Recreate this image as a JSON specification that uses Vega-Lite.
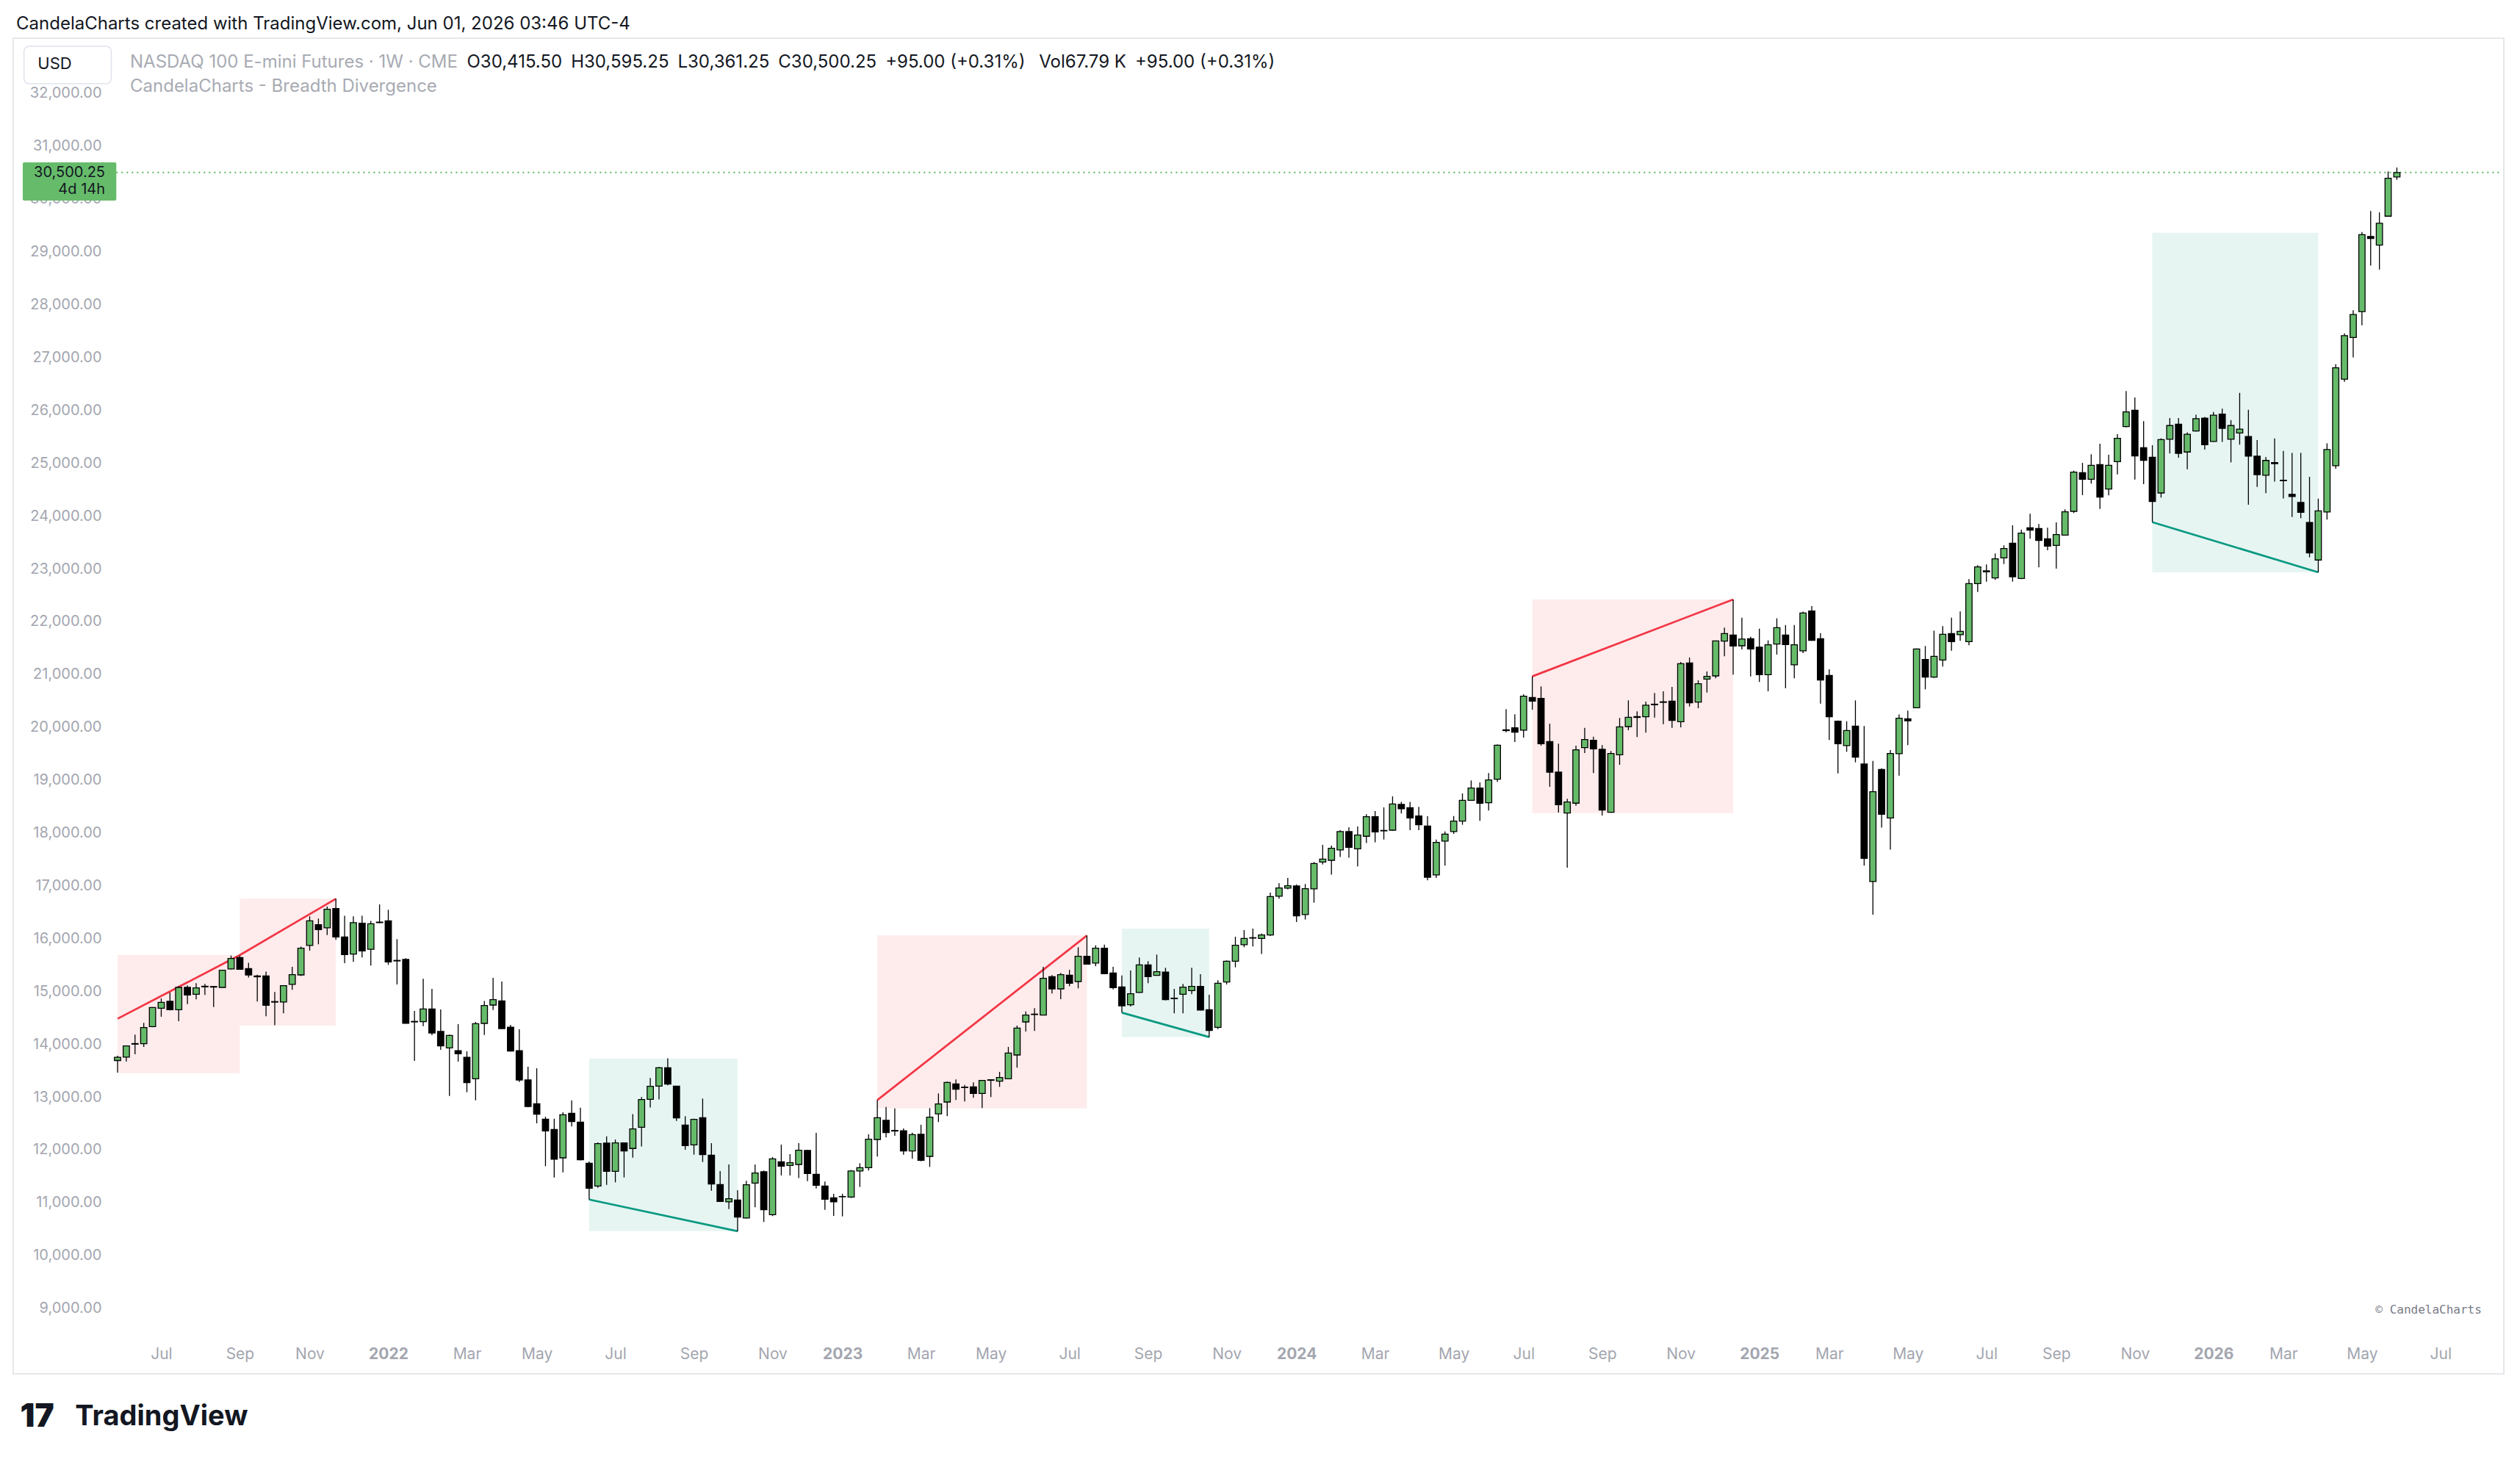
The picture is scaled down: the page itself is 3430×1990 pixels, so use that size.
{
"$schema": "https://vega.github.io/schema/vega-lite/v6.json",
"width": 3390,
"height": 1818,
"autosize": {"type": "none"},
"padding": {"left": 18, "top": 52, "right": 22, "bottom": 120},
"background": "#ffffff",
"config": {"view": {"stroke": "#e6e7eb", "strokeWidth": 2}, "font": "Inter"},
"title": {"text": "CandelaCharts created with TradingView.com, Jun 01, 2026 03:46 UTC-4", "anchor": "start", "frame": "group", "orient": "top", "fontSize": 24, "fontWeight": "normal", "color": "#131722", "font": "Inter", "dx": 4, "offset": 7},
"datasets": {
"candles": [
{"d":"2021-05-31","o":13690,"h":13780,"l":13460,"c":13750},
{"d":"2021-06-07","o":13753,"h":13975,"l":13669,"c":13966},
{"d":"2021-06-14","o":14010,"h":14179,"l":13808,"c":14000},
{"d":"2021-06-21","o":14008,"h":14402,"l":13948,"c":14314},
{"d":"2021-06-28","o":14332,"h":14700,"l":14320,"c":14694},
{"d":"2021-07-05","o":14680,"h":14865,"l":14518,"c":14791},
{"d":"2021-07-12","o":14810,"h":14977,"l":14640,"c":14652},
{"d":"2021-07-19","o":14652,"h":15093,"l":14434,"c":15074},
{"d":"2021-07-26","o":15074,"h":15111,"l":14759,"c":14930},
{"d":"2021-08-02","o":14944,"h":15153,"l":14847,"c":15065},
{"d":"2021-08-09","o":15095,"h":15139,"l":14930,"c":15085},
{"d":"2021-08-16","o":15090,"h":15097,"l":14703,"c":15080},
{"d":"2021-08-23","o":15074,"h":15408,"l":15070,"c":15399},
{"d":"2021-08-30","o":15422,"h":15677,"l":15415,"c":15621},
{"d":"2021-09-06","o":15640,"h":15677,"l":15410,"c":15417},
{"d":"2021-09-13","o":15431,"h":15538,"l":15260,"c":15310},
{"d":"2021-09-20","o":15290,"h":15315,"l":14805,"c":15275},
{"d":"2021-09-27","o":15292,"h":15371,"l":14527,"c":14736},
{"d":"2021-10-04","o":14805,"h":14986,"l":14356,"c":14795},
{"d":"2021-10-11","o":14796,"h":15106,"l":14583,"c":15106},
{"d":"2021-10-18","o":15130,"h":15463,"l":15028,"c":15315},
{"d":"2021-10-25","o":15310,"h":15848,"l":15290,"c":15816},
{"d":"2021-11-01","o":15867,"h":16419,"l":15770,"c":16335},
{"d":"2021-11-08","o":16261,"h":16377,"l":15890,"c":16168},
{"d":"2021-11-15","o":16201,"h":16604,"l":16066,"c":16553},
{"d":"2021-11-22","o":16567,"h":16752,"l":15974,"c":16029},
{"d":"2021-11-29","o":16029,"h":16428,"l":15533,"c":15695},
{"d":"2021-12-06","o":15705,"h":16419,"l":15556,"c":16298},
{"d":"2021-12-13","o":16289,"h":16428,"l":15640,"c":15765},
{"d":"2021-12-20","o":15796,"h":16334,"l":15486,"c":16279},
{"d":"2021-12-27","o":16310,"h":16645,"l":16290,"c":16300},
{"d":"2022-01-03","o":16334,"h":16543,"l":15500,"c":15555},
{"d":"2022-01-10","o":15585,"h":15987,"l":15129,"c":15575},
{"d":"2022-01-17","o":15602,"h":15625,"l":14390,"c":14396},
{"d":"2022-01-24","o":14430,"h":14628,"l":13683,"c":14420},
{"d":"2022-01-31","o":14424,"h":15236,"l":14341,"c":14665},
{"d":"2022-02-07","o":14665,"h":15045,"l":14169,"c":14211},
{"d":"2022-02-14","o":14239,"h":14656,"l":13891,"c":13965},
{"d":"2022-02-21","o":13928,"h":14179,"l":13020,"c":14165},
{"d":"2022-02-28","o":13877,"h":14378,"l":13669,"c":13817},
{"d":"2022-03-07","o":13752,"h":13863,"l":13089,"c":13270},
{"d":"2022-03-14","o":13344,"h":14420,"l":12936,"c":14387},
{"d":"2022-03-21","o":14392,"h":14818,"l":14174,"c":14730},
{"d":"2022-03-28","o":14740,"h":15254,"l":14647,"c":14842},
{"d":"2022-04-04","o":14818,"h":15185,"l":14290,"c":14294},
{"d":"2022-04-11","o":14322,"h":14364,"l":13860,"c":13868},
{"d":"2022-04-18","o":13877,"h":14281,"l":13284,"c":13321},
{"d":"2022-04-25","o":13321,"h":13571,"l":12802,"c":12820},
{"d":"2022-05-02","o":12871,"h":13543,"l":12500,"c":12672},
{"d":"2022-05-09","o":12579,"h":12625,"l":11689,"c":12357},
{"d":"2022-05-16","o":12384,"h":12588,"l":11476,"c":11823},
{"d":"2022-05-23","o":11847,"h":12709,"l":11573,"c":12662},
{"d":"2022-05-30","o":12690,"h":12936,"l":12440,"c":12533},
{"d":"2022-06-06","o":12523,"h":12797,"l":11800,"c":11810},
{"d":"2022-06-13","o":11745,"h":11777,"l":11058,"c":11272},
{"d":"2022-06-20","o":11313,"h":12139,"l":11281,"c":12116},
{"d":"2022-06-27","o":12125,"h":12255,"l":11337,"c":11592},
{"d":"2022-07-04","o":11592,"h":12194,"l":11383,"c":12130},
{"d":"2022-07-11","o":12130,"h":12139,"l":11476,"c":11976},
{"d":"2022-07-18","o":12024,"h":12673,"l":11852,"c":12394},
{"d":"2022-07-25","o":12427,"h":12997,"l":12061,"c":12951},
{"d":"2022-08-01","o":12955,"h":13359,"l":12798,"c":13201},
{"d":"2022-08-08","o":13206,"h":13567,"l":12951,"c":13553},
{"d":"2022-08-15","o":13553,"h":13730,"l":13220,"c":13243},
{"d":"2022-08-22","o":13206,"h":13210,"l":12547,"c":12603},
{"d":"2022-08-29","o":12469,"h":12635,"l":12000,"c":12079},
{"d":"2022-09-05","o":12093,"h":12589,"l":11908,"c":12575},
{"d":"2022-09-12","o":12608,"h":12969,"l":11768,"c":11908},
{"d":"2022-09-19","o":11898,"h":12126,"l":11226,"c":11351},
{"d":"2022-09-26","o":11342,"h":11597,"l":11020,"c":11022},
{"d":"2022-10-03","o":11013,"h":11722,"l":10878,"c":11073},
{"d":"2022-10-10","o":11050,"h":11235,"l":10457,"c":10725},
{"d":"2022-10-17","o":10707,"h":11412,"l":10700,"c":11337},
{"d":"2022-10-24","o":11370,"h":11722,"l":10911,"c":11560},
{"d":"2022-10-31","o":11583,"h":11606,"l":10633,"c":10865},
{"d":"2022-11-07","o":10772,"h":11861,"l":10744,"c":11829},
{"d":"2022-11-14","o":11773,"h":12098,"l":11514,"c":11690},
{"d":"2022-11-21","o":11704,"h":11917,"l":11514,"c":11755},
{"d":"2022-11-28","o":11722,"h":12126,"l":11463,"c":11991},
{"d":"2022-12-05","o":11986,"h":12000,"l":11407,"c":11551},
{"d":"2022-12-12","o":11537,"h":12320,"l":11268,"c":11328},
{"d":"2022-12-19","o":11314,"h":11398,"l":10864,"c":11064},
{"d":"2022-12-26","o":11092,"h":11166,"l":10749,"c":11013},
{"d":"2023-01-02","o":11115,"h":11166,"l":10739,"c":11110},
{"d":"2023-01-09","o":11106,"h":11616,"l":11087,"c":11597},
{"d":"2023-01-16","o":11597,"h":11745,"l":11296,"c":11662},
{"d":"2023-01-23","o":11662,"h":12292,"l":11606,"c":12200},
{"d":"2023-01-30","o":12195,"h":12941,"l":11871,"c":12608},
{"d":"2023-02-06","o":12556,"h":12811,"l":12232,"c":12324},
{"d":"2023-02-13","o":12365,"h":12783,"l":12264,"c":12355},
{"d":"2023-02-20","o":12361,"h":12403,"l":11907,"c":11977},
{"d":"2023-02-27","o":11977,"h":12324,"l":11828,"c":12287},
{"d":"2023-03-06","o":12292,"h":12473,"l":11782,"c":11801},
{"d":"2023-03-13","o":11875,"h":12788,"l":11675,"c":12616},
{"d":"2023-03-20","o":12681,"h":13066,"l":12524,"c":12867},
{"d":"2023-03-27","o":12904,"h":13289,"l":12635,"c":13275},
{"d":"2023-04-03","o":13247,"h":13330,"l":12941,"c":13145},
{"d":"2023-04-10","o":13185,"h":13228,"l":12913,"c":13178},
{"d":"2023-04-17","o":13191,"h":13275,"l":12983,"c":13066},
{"d":"2023-04-24","o":13066,"h":13321,"l":12788,"c":13312},
{"d":"2023-05-01","o":13315,"h":13335,"l":12997,"c":13325},
{"d":"2023-05-08","o":13298,"h":13474,"l":13191,"c":13368},
{"d":"2023-05-15","o":13344,"h":13947,"l":13340,"c":13831},
{"d":"2023-05-22","o":13794,"h":14350,"l":13553,"c":14304},
{"d":"2023-05-29","o":14420,"h":14619,"l":14239,"c":14550},
{"d":"2023-06-05","o":14560,"h":14680,"l":14248,"c":14568},
{"d":"2023-06-12","o":14550,"h":15463,"l":14545,"c":15245},
{"d":"2023-06-19","o":15278,"h":15305,"l":14958,"c":15046},
{"d":"2023-06-26","o":15046,"h":15347,"l":14851,"c":15315},
{"d":"2023-07-03","o":15305,"h":15407,"l":15097,"c":15152},
{"d":"2023-07-10","o":15185,"h":15834,"l":15055,"c":15662},
{"d":"2023-07-17","o":15662,"h":16056,"l":15510,"c":15514},
{"d":"2023-07-24","o":15533,"h":15871,"l":15472,"c":15815},
{"d":"2023-07-31","o":15815,"h":15885,"l":15330,"c":15333},
{"d":"2023-08-07","o":15347,"h":15463,"l":15036,"c":15069},
{"d":"2023-08-14","o":15083,"h":15301,"l":14596,"c":14726},
{"d":"2023-08-21","o":14744,"h":15393,"l":14712,"c":14953},
{"d":"2023-08-28","o":14977,"h":15640,"l":14970,"c":15501},
{"d":"2023-09-04","o":15501,"h":15570,"l":15153,"c":15278},
{"d":"2023-09-11","o":15301,"h":15695,"l":15295,"c":15371},
{"d":"2023-09-18","o":15362,"h":15445,"l":14828,"c":14842},
{"d":"2023-09-25","o":14870,"h":15046,"l":14583,"c":14860},
{"d":"2023-10-02","o":14944,"h":15139,"l":14583,"c":15079},
{"d":"2023-10-09","o":15014,"h":15445,"l":14944,"c":15093},
{"d":"2023-10-16","o":15093,"h":15324,"l":14640,"c":14643},
{"d":"2023-10-23","o":14652,"h":14935,"l":14133,"c":14258},
{"d":"2023-10-30","o":14318,"h":15209,"l":14286,"c":15153},
{"d":"2023-11-06","o":15176,"h":15584,"l":15130,"c":15570},
{"d":"2023-11-13","o":15570,"h":16034,"l":15454,"c":15872},
{"d":"2023-11-20","o":15881,"h":16159,"l":15834,"c":16001},
{"d":"2023-11-27","o":16015,"h":16187,"l":15848,"c":16007},
{"d":"2023-12-04","o":16001,"h":16094,"l":15705,"c":16066},
{"d":"2023-12-11","o":16066,"h":16868,"l":16048,"c":16794},
{"d":"2023-12-18","o":16799,"h":17044,"l":16752,"c":16956},
{"d":"2023-12-25","o":16952,"h":17146,"l":16929,"c":16998},
{"d":"2024-01-01","o":16993,"h":17021,"l":16312,"c":16428},
{"d":"2024-01-08","o":16451,"h":17031,"l":16358,"c":16943},
{"d":"2024-01-15","o":16938,"h":17448,"l":16678,"c":17420},
{"d":"2024-01-22","o":17448,"h":17772,"l":17401,"c":17503},
{"d":"2024-01-29","o":17480,"h":17758,"l":17207,"c":17707},
{"d":"2024-02-05","o":17675,"h":18050,"l":17541,"c":18023},
{"d":"2024-02-12","o":18023,"h":18106,"l":17527,"c":17726},
{"d":"2024-02-19","o":17698,"h":18120,"l":17364,"c":17958},
{"d":"2024-02-26","o":17935,"h":18352,"l":17805,"c":18305},
{"d":"2024-03-04","o":18305,"h":18412,"l":17819,"c":18018},
{"d":"2024-03-11","o":18045,"h":18482,"l":17874,"c":18037},
{"d":"2024-03-18","o":18050,"h":18690,"l":18040,"c":18546},
{"d":"2024-03-25","o":18537,"h":18584,"l":18366,"c":18454},
{"d":"2024-04-01","o":18477,"h":18584,"l":18051,"c":18282},
{"d":"2024-04-08","o":18319,"h":18491,"l":18051,"c":18153},
{"d":"2024-04-15","o":18129,"h":18315,"l":17100,"c":17160},
{"d":"2024-04-22","o":17202,"h":17874,"l":17147,"c":17819},
{"d":"2024-04-29","o":17842,"h":18027,"l":17378,"c":17976},
{"d":"2024-05-06","o":18023,"h":18319,"l":17981,"c":18222},
{"d":"2024-05-13","o":18222,"h":18746,"l":18153,"c":18616},
{"d":"2024-05-20","o":18616,"h":18992,"l":18610,"c":18848},
{"d":"2024-05-27","o":18848,"h":18955,"l":18227,"c":18561},
{"d":"2024-06-03","o":18570,"h":19131,"l":18421,"c":19001},
{"d":"2024-06-10","o":19015,"h":19673,"l":18964,"c":19659},
{"d":"2024-06-17","o":19950,"h":20341,"l":19905,"c":19935},
{"d":"2024-06-24","o":19988,"h":20243,"l":19720,"c":19905},
{"d":"2024-07-01","o":19942,"h":20624,"l":19803,"c":20586},
{"d":"2024-07-08","o":20563,"h":20962,"l":20331,"c":20494},
{"d":"2024-07-15","o":20545,"h":20772,"l":19650,"c":19687},
{"d":"2024-07-22","o":19729,"h":20067,"l":18871,"c":19149},
{"d":"2024-07-29","o":19149,"h":19687,"l":18384,"c":18533},
{"d":"2024-08-05","o":18375,"h":18644,"l":17341,"c":18584},
{"d":"2024-08-12","o":18561,"h":19650,"l":18514,"c":19571},
{"d":"2024-08-19","o":19613,"h":19988,"l":19511,"c":19766},
{"d":"2024-08-26","o":19752,"h":19821,"l":19131,"c":19590},
{"d":"2024-09-02","o":19580,"h":19659,"l":18329,"c":18431},
{"d":"2024-09-09","o":18389,"h":19548,"l":18380,"c":19502},
{"d":"2024-09-16","o":19478,"h":20174,"l":19288,"c":20007},
{"d":"2024-09-23","o":20011,"h":20508,"l":19942,"c":20188},
{"d":"2024-09-30","o":20200,"h":20299,"l":19812,"c":20185},
{"d":"2024-10-07","o":20197,"h":20485,"l":19896,"c":20415},
{"d":"2024-10-14","o":20435,"h":20647,"l":20183,"c":20425},
{"d":"2024-10-21","o":20480,"h":20679,"l":20058,"c":20470},
{"d":"2024-10-28","o":20494,"h":20762,"l":19988,"c":20127},
{"d":"2024-11-04","o":20104,"h":21235,"l":19998,"c":21203},
{"d":"2024-11-11","o":21217,"h":21319,"l":20392,"c":20461},
{"d":"2024-11-18","o":20475,"h":20888,"l":20359,"c":20823},
{"d":"2024-11-25","o":20911,"h":21055,"l":20656,"c":20962},
{"d":"2024-12-02","o":20971,"h":21640,"l":20925,"c":21634},
{"d":"2024-12-09","o":21629,"h":21884,"l":21342,"c":21773},
{"d":"2024-12-16","o":21745,"h":22418,"l":20994,"c":21537},
{"d":"2024-12-23","o":21541,"h":22074,"l":21472,"c":21667},
{"d":"2024-12-30","o":21676,"h":21713,"l":20962,"c":21481},
{"d":"2025-01-06","o":21514,"h":21866,"l":20855,"c":20994},
{"d":"2025-01-13","o":20994,"h":21643,"l":20679,"c":21560},
{"d":"2025-01-20","o":21574,"h":22061,"l":21374,"c":21884},
{"d":"2025-01-27","o":21745,"h":21935,"l":20739,"c":21565},
{"d":"2025-02-03","o":21180,"h":21935,"l":20925,"c":21560},
{"d":"2025-02-10","o":21444,"h":22186,"l":21402,"c":22163},
{"d":"2025-02-17","o":22200,"h":22292,"l":21634,"c":21643},
{"d":"2025-02-24","o":21676,"h":21782,"l":20447,"c":20892},
{"d":"2025-03-03","o":20980,"h":21096,"l":19757,"c":20197},
{"d":"2025-03-10","o":20113,"h":20127,"l":19126,"c":19687},
{"d":"2025-03-17","o":19650,"h":20113,"l":19534,"c":19937},
{"d":"2025-03-24","o":20021,"h":20507,"l":19335,"c":19432},
{"d":"2025-03-31","o":19302,"h":20021,"l":17378,"c":17517},
{"d":"2025-04-07","o":17077,"h":19362,"l":16451,"c":18778},
{"d":"2025-04-14","o":19200,"h":19223,"l":18097,"c":18352},
{"d":"2025-04-21","o":18282,"h":19566,"l":17680,"c":19502},
{"d":"2025-04-28","o":19497,"h":20239,"l":19084,"c":20169},
{"d":"2025-05-05","o":20160,"h":20313,"l":19659,"c":20120},
{"d":"2025-05-12","o":20368,"h":21490,"l":20360,"c":21481},
{"d":"2025-05-19","o":21281,"h":21536,"l":20716,"c":20948},
{"d":"2025-05-26","o":20948,"h":21828,"l":20934,"c":21342},
{"d":"2025-06-02","o":21272,"h":21912,"l":21147,"c":21759},
{"d":"2025-06-09","o":21773,"h":22074,"l":21448,"c":21620},
{"d":"2025-06-16","o":21750,"h":22190,"l":21634,"c":21815},
{"d":"2025-06-23","o":21620,"h":22802,"l":21550,"c":22719},
{"d":"2025-06-30","o":22719,"h":23066,"l":22561,"c":23034},
{"d":"2025-07-07","o":22940,"h":23080,"l":22756,"c":22960},
{"d":"2025-07-14","o":22825,"h":23289,"l":22788,"c":23187},
{"d":"2025-07-21","o":23205,"h":23442,"l":23089,"c":23382},
{"d":"2025-07-28","o":23483,"h":23822,"l":22756,"c":22848},
{"d":"2025-08-04","o":22816,"h":23739,"l":22802,"c":23674},
{"d":"2025-08-11","o":23776,"h":24040,"l":23567,"c":23729},
{"d":"2025-08-18","o":23762,"h":23845,"l":23025,"c":23535},
{"d":"2025-08-25","o":23567,"h":23776,"l":23349,"c":23428},
{"d":"2025-09-01","o":23442,"h":23878,"l":23001,"c":23646},
{"d":"2025-09-08","o":23637,"h":24123,"l":23630,"c":24077},
{"d":"2025-09-15","o":24086,"h":24856,"l":24054,"c":24828},
{"d":"2025-09-22","o":24819,"h":25004,"l":24392,"c":24693},
{"d":"2025-09-29","o":24693,"h":25166,"l":24610,"c":24958},
{"d":"2025-10-06","o":24972,"h":25366,"l":24133,"c":24355},
{"d":"2025-10-13","o":24508,"h":25157,"l":24388,"c":24958},
{"d":"2025-10-20","o":25027,"h":25547,"l":24786,"c":25468},
{"d":"2025-10-27","o":25690,"h":26362,"l":25676,"c":25968},
{"d":"2025-11-03","o":26001,"h":26242,"l":24689,"c":25134},
{"d":"2025-11-10","o":25292,"h":25792,"l":24601,"c":25050},
{"d":"2025-11-17","o":25111,"h":25338,"l":23882,"c":24272},
{"d":"2025-11-24","o":24434,"h":25468,"l":24346,"c":25445},
{"d":"2025-12-01","o":25452,"h":25854,"l":25183,"c":25710},
{"d":"2025-12-08","o":25736,"h":25854,"l":25100,"c":25183},
{"d":"2025-12-15","o":25209,"h":25581,"l":24884,"c":25544},
{"d":"2025-12-22","o":25606,"h":25916,"l":25596,"c":25839},
{"d":"2025-12-29","o":25849,"h":25875,"l":25255,"c":25348},
{"d":"2026-01-05","o":25410,"h":25968,"l":25400,"c":25906},
{"d":"2026-01-12","o":25926,"h":26030,"l":25400,"c":25658},
{"d":"2026-01-19","o":25452,"h":25813,"l":25013,"c":25710},
{"d":"2026-01-26","o":25570,"h":26329,"l":25348,"c":25643},
{"d":"2026-02-02","o":25503,"h":26009,"l":24213,"c":25131},
{"d":"2026-02-09","o":25131,"h":25436,"l":24548,"c":24781},
{"d":"2026-02-16","o":24770,"h":25116,"l":24429,"c":25049},
{"d":"2026-02-23","o":25010,"h":25467,"l":24651,"c":24990},
{"d":"2026-03-02","o":24675,"h":25230,"l":24331,"c":24665},
{"d":"2026-03-09","o":24409,"h":25193,"l":23980,"c":24367},
{"d":"2026-03-16","o":24254,"h":25193,"l":23955,"c":24068},
{"d":"2026-03-23","o":23877,"h":24739,"l":23216,"c":23299},
{"d":"2026-03-30","o":23165,"h":24326,"l":22932,"c":24094},
{"d":"2026-04-06","o":24073,"h":25374,"l":23929,"c":25255},
{"d":"2026-04-13","o":24951,"h":26871,"l":24894,"c":26804},
{"d":"2026-04-20","o":26587,"h":27454,"l":26536,"c":27413},
{"d":"2026-04-27","o":27377,"h":27893,"l":27000,"c":27811},
{"d":"2026-05-04","o":27867,"h":29375,"l":27609,"c":29323},
{"d":"2026-05-11","o":29290,"h":29772,"l":28740,"c":29250},
{"d":"2026-05-18","o":29127,"h":29746,"l":28662,"c":29540},
{"d":"2026-05-25","o":29674,"h":30521,"l":29670,"c":30392},
{"d":"2026-06-01","o":30415.5,"h":30595.25,"l":30361.25,"c":30500.25}
],
"boxes": [
{"s":"2021-05-31","e":"2021-09-06","lo":13451,"hi":15686,"kind":"bear"},
{"s":"2021-09-06","e":"2021-11-22","lo":14351,"hi":16752,"kind":"bear"},
{"s":"2022-06-13","e":"2022-10-10","lo":10460,"hi":13729,"kind":"bull"},
{"s":"2023-01-30","e":"2023-07-17","lo":12785,"hi":16056,"kind":"bear"},
{"s":"2023-08-14","e":"2023-10-23","lo":14133,"hi":16186,"kind":"bull"},
{"s":"2024-07-08","e":"2024-12-16","lo":18375,"hi":22418,"kind":"bear"},
{"s":"2025-11-17","e":"2026-03-30","lo":22932,"hi":29360,"kind":"bull"}
],
"lines": [
{"s":"2021-05-31","e":"2021-09-06","p1":14481,"p2":15686,"kind":"bear"},
{"s":"2021-09-06","e":"2021-11-22","p1":15686,"p2":16752,"kind":"bear"},
{"s":"2022-06-13","e":"2022-10-10","p1":11058,"p2":10457,"kind":"bull"},
{"s":"2023-01-30","e":"2023-07-17","p1":12941,"p2":16056,"kind":"bear"},
{"s":"2023-08-14","e":"2023-10-23","p1":14596,"p2":14133,"kind":"bull"},
{"s":"2024-07-08","e":"2024-12-16","p1":20962,"p2":22418,"kind":"bear"},
{"s":"2025-11-17","e":"2026-03-30","p1":23882,"p2":22932,"kind":"bull"}
]
},
"layer": [
{
"data": {"name": "boxes"},
"mark": {"type": "rect", "opacity": 0.1},
"encoding": {
"x": {"field": "s", "type": "temporal", "title": null,
"scale": {"type": "utc", "domain": [1615447584000, 1787425920000]},
"axis": {"title": null, "domain": false, "ticks": false, "grid": false,
"values": [
{"year":2021,"month":7,"date":5,"utc":true},{"year":2021,"month":9,"date":6,"utc":true},{"year":2021,"month":11,"date":1,"utc":true},
{"year":2022,"month":1,"date":3,"utc":true},{"year":2022,"month":3,"date":7,"utc":true},{"year":2022,"month":5,"date":2,"utc":true},{"year":2022,"month":7,"date":4,"utc":true},{"year":2022,"month":9,"date":5,"utc":true},{"year":2022,"month":11,"date":7,"utc":true},
{"year":2023,"month":1,"date":2,"utc":true},{"year":2023,"month":3,"date":6,"utc":true},{"year":2023,"month":5,"date":1,"utc":true},{"year":2023,"month":7,"date":3,"utc":true},{"year":2023,"month":9,"date":4,"utc":true},{"year":2023,"month":11,"date":6,"utc":true},
{"year":2024,"month":1,"date":1,"utc":true},{"year":2024,"month":3,"date":4,"utc":true},{"year":2024,"month":5,"date":6,"utc":true},{"year":2024,"month":7,"date":1,"utc":true},{"year":2024,"month":9,"date":2,"utc":true},{"year":2024,"month":11,"date":4,"utc":true},
{"year":2025,"month":1,"date":6,"utc":true},{"year":2025,"month":3,"date":3,"utc":true},{"year":2025,"month":5,"date":5,"utc":true},{"year":2025,"month":7,"date":7,"utc":true},{"year":2025,"month":9,"date":1,"utc":true},{"year":2025,"month":11,"date":3,"utc":true},
{"year":2026,"month":1,"date":5,"utc":true},{"year":2026,"month":3,"date":2,"utc":true},{"year":2026,"month":5,"date":4,"utc":true},{"year":2026,"month":7,"date":6,"utc":true}
],
"labelExpr": "utcmonth(datum.value) === 0 ? utcFormat(datum.value, '%Y') : utcFormat(datum.value, '%b')",
"labelFont": "Inter", "labelFontSize": 21, "labelColor": "#a3a6af",
"labelFontWeight": {"condition": {"test": "utcmonth(datum.value) === 0", "value": "bold"}, "value": "normal"},
"labelBaseline": "middle", "labelPadding": 0, "offset": -27,
"labelOverlap": false, "labelFlush": false, "labelBound": false}
},
"x2": {"field": "e"},
"y": {"field": "lo", "type": "quantitative", "title": null,
"scale": {"domain": [7758, 33043], "zero": false, "nice": false},
"axis": {"title": null, "domain": false, "ticks": false, "grid": false,
"values": [9000,10000,11000,12000,13000,14000,15000,16000,17000,18000,19000,20000,21000,22000,23000,24000,25000,26000,27000,28000,29000,30000,31000,32000],
"format": ",.2f", "labelFont": "Inter", "labelFontSize": 20, "labelColor": "#a3a6af",
"labelPadding": 0, "offset": -120, "labelOverlap": false, "labelFlush": false, "labelBound": false}
},
"y2": {"field": "hi"},
"color": {"field": "kind", "type": "nominal", "scale": {"domain": ["bear", "bull"], "range": ["#f23645", "#089981"]}, "legend": null}
}
},
{
"data": {"name": "lines"},
"mark": {"type": "rule", "strokeWidth": 2.7},
"encoding": {
"x": {"field": "s", "type": "temporal", "title": null},
"x2": {"field": "e"},
"y": {"field": "p1", "type": "quantitative", "title": null},
"y2": {"field": "p2"},
"color": {"field": "kind", "type": "nominal", "legend": null}
}
},
{
"data": {"values": [{}]},
"mark": {"type": "rule", "color": "#5cb860", "strokeWidth": 2, "strokeDash": [2, 5]},
"encoding": {
"x": {"datum": {"year": 2021, "month": 5, "date": 30, "utc": true}, "type": "temporal"},
"x2": {"datum": {"year": 2026, "month": 8, "date": 23, "utc": true}},
"y": {"datum": 30500.25, "type": "quantitative"}
}
},
{
"data": {"name": "candles"},
"mark": {"type": "rule", "color": "#000000", "strokeWidth": 1.3},
"encoding": {
"x": {"field": "d", "type": "temporal", "title": null},
"y": {"field": "l", "type": "quantitative", "title": null},
"y2": {"field": "h"}
}
},
{
"data": {"name": "candles"},
"mark": {"type": "bar", "size": 8.5, "stroke": "#000000", "strokeWidth": 1.3},
"encoding": {
"x": {"field": "d", "type": "temporal", "title": null},
"y": {"field": "o", "type": "quantitative", "title": null},
"y2": {"field": "c"},
"fill": {"condition": {"test": "datum.c >= datum.o", "value": "#66bb6a"}, "value": "#000000"}
}
},
{
"data": {"values": [{}]},
"mark": {"type": "rect", "fill": "#66bb6a", "cornerRadius": 2},
"encoding": {
"x": {"datum": {"year": 2021, "month": 3, "date": 16, "utc": true}, "type": "temporal"},
"x2": {"datum": {"year": 2021, "month": 5, "date": 30, "utc": true}},
"y": {"datum": 30693, "type": "quantitative"},
"y2": {"datum": 29969}
}
},
{
"data": {"values": [{}]},
"mark": {"type": "text", "text": "30,500.25", "align": "right", "baseline": "middle", "font": "Inter", "fontSize": 20, "color": "#131722"},
"encoding": {
"x": {"datum": {"year": 2021, "month": 5, "date": 21, "utc": true}, "type": "temporal"},
"y": {"datum": 30500.25, "type": "quantitative"}
}
},
{
"data": {"values": [{}]},
"mark": {"type": "text", "text": "4d 14h", "align": "right", "baseline": "middle", "font": "Inter", "fontSize": 20, "color": "#131722"},
"encoding": {
"x": {"datum": {"year": 2021, "month": 5, "date": 21, "utc": true}, "type": "temporal"},
"y": {"datum": 30178, "type": "quantitative"}
}
},
{
"data": {"values": [{}]},
"mark": {"type": "rect", "fill": "#ffffff", "stroke": "#e0e3eb", "strokeWidth": 1.5, "cornerRadius": 7},
"encoding": {
"x": {"datum": {"year": 2021, "month": 3, "date": 17, "utc": true}, "type": "temporal"},
"x2": {"datum": {"year": 2021, "month": 5, "date": 26, "utc": true}},
"y": {"datum": 32890, "type": "quantitative"},
"y2": {"datum": 32181}
}
},
{
"data": {"values": [{}]},
"mark": {"type": "text", "text": "USD", "align": "left", "baseline": "middle", "font": "Inter", "fontSize": 22, "color": "#131722"},
"encoding": {
"x": {"datum": {"year": 2021, "month": 3, "date": 28, "utc": true}, "type": "temporal"},
"y": {"datum": 32556, "type": "quantitative"}
}
},
{
"data": {"values": [{}]},
"mark": {"type": "text", "text": "NASDAQ 100 E-mini Futures · 1W · CME", "align": "left", "baseline": "middle", "font": "Inter", "fontSize": 24, "color": "#a8abb3"},
"encoding": {
"x": {"datum": {"year": 2021, "month": 6, "date": 10, "utc": true}, "type": "temporal"},
"y": {"datum": 32584, "type": "quantitative"}
}
},
{
"data": {"values": [{}]},
"mark": {"type": "text", "text": "O30,415.50\u2002H30,595.25\u2002L30,361.25\u2002C30,500.25\u2002+95.00 (+0.31%)\u2002 Vol67.79 K\u2002+95.00 (+0.31%)", "align": "left", "baseline": "middle", "font": "Inter", "fontSize": 24, "color": "#131722"},
"encoding": {
"x": {"datum": {"year": 2022, "month": 3, "date": 7, "utc": true}, "type": "temporal"},
"y": {"datum": 32584, "type": "quantitative"}
}
},
{
"data": {"values": [{}]},
"mark": {"type": "text", "text": "CandelaCharts - Breadth Divergence", "align": "left", "baseline": "middle", "font": "Inter", "fontSize": 24, "color": "#a8abb3"},
"encoding": {
"x": {"datum": {"year": 2021, "month": 6, "date": 10, "utc": true}, "type": "temporal"},
"y": {"datum": 32125, "type": "quantitative"}
}
},
{
"data": {"values": [{}]},
"mark": {"type": "text", "text": "© CandelaCharts", "align": "right", "baseline": "middle", "font": "DejaVu Sans Mono", "fontSize": 16, "color": "#787b86"},
"encoding": {
"x": {"datum": {"year": 2026, "month": 8, "date": 8, "utc": true}, "type": "temporal"},
"y": {"datum": 8968, "type": "quantitative"}
}
},
{
"data": {"values": [{}]},
"mark": {"type": "text", "text": "TradingView", "align": "left", "baseline": "middle", "font": "Inter", "fontSize": 38, "fontWeight": "bold", "color": "#131722"},
"encoding": {
"x": {"datum": {"year": 2021, "month": 4, "date": 27, "utc": true}, "type": "temporal"},
"y": {"datum": 6937, "type": "quantitative"}
}
},
{
"data": {"values": [{}]},
"mark": {"type": "text", "text": "17", "align": "left", "baseline": "middle", "font": "Inter", "fontSize": 44, "fontWeight": 900, "color": "#131722"},
"encoding": {
"x": {"datum": {"year": 2021, "month": 3, "date": 14, "utc": true}, "type": "temporal"},
"y": {"datum": 6937, "type": "quantitative"}
}
}
]
}
